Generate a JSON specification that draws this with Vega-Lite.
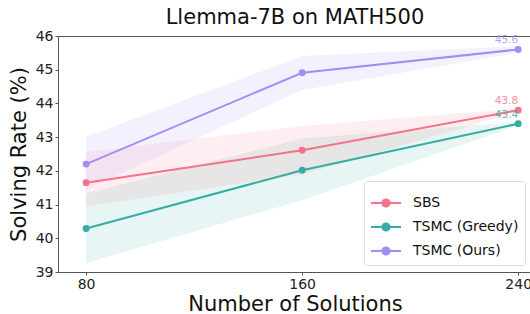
{
  "$schema": "https://vega.github.io/schema/vega-lite/v6.json",
  "width": 474,
  "height": 236,
  "autosize": {"type": "none"},
  "padding": {"left": 58, "top": 36, "right": 0, "bottom": 42},
  "background": "white",
  "config": {
    "font": "DejaVu Sans",
    "view": {"stroke": "#555", "strokeWidth": 1},
    "axis": {
      "domainColor": "#555", "tickColor": "#555", "tickSize": 3, "labelPadding": 2,
      "labelFontSize": 14, "labelColor": "#222", "titleFontSize": 21, "titleFontWeight": "normal",
      "titleColor": "#111", "grid": false, "labelOverlap": false
    },
    "title": {"fontSize": 21, "fontWeight": "normal", "color": "#111", "offset": 1}
  },
  "title": {"text": "Llemma-7B on MATH500", "anchor": "middle"},
  "data": {
    "values": [
      {"method": "SBS", "n": 80, "rate": 41.65, "lo": 40.95, "hi": 42.56},
      {"method": "SBS", "n": 160, "rate": 42.61, "lo": 41.89, "hi": 43.33},
      {"method": "SBS", "n": 240, "rate": 43.8, "lo": 43.75, "hi": 43.85, "label": "43.8"},
      {"method": "TSMC (Greedy)", "n": 80, "rate": 40.29, "lo": 39.27, "hi": 41.33},
      {"method": "TSMC (Greedy)", "n": 160, "rate": 42.02, "lo": 41.13, "hi": 42.96},
      {"method": "TSMC (Greedy)", "n": 240, "rate": 43.4, "lo": 43.35, "hi": 43.45, "label": "43.4"},
      {"method": "TSMC (Ours)", "n": 80, "rate": 42.2, "lo": 41.45, "hi": 43.01},
      {"method": "TSMC (Ours)", "n": 160, "rate": 44.91, "lo": 44.4, "hi": 45.41},
      {"method": "TSMC (Ours)", "n": 240, "rate": 45.6, "lo": 45.5, "hi": 45.7, "label": "45.6"}
    ]
  },
  "encoding": {
    "x": {"field": "n", "type": "quantitative",
      "scale": {"domain": [69.6, 245.1], "nice": false, "zero": false},
      "axis": {"values": [80, 160, 240], "title": "Number of Solutions", "titlePadding": 2}},
    "y": {"field": "rate", "type": "quantitative",
      "scale": {"domain": [39, 46], "nice": false, "zero": false},
      "axis": {"values": [39, 40, 41, 42, 43, 44, 45, 46], "title": "Solving Rate (%)", "titlePadding": 6, "labelOverlap": false, "tickCount": 8}},
    "color": {"field": "method", "type": "nominal",
      "scale": {"domain": ["SBS", "TSMC (Greedy)", "TSMC (Ours)"], "range": ["#f77189", "#36ada4", "#a48cf4"]},
      "legend": {
        "title": null, "orient": "bottom-right", "offset": 7,
        "labelFontSize": 14, "labelColor": "#111", "labelOffset": 11,
        "symbolType": "M-1,0H1M-0.24,0A0.24,0.24,0,1,1,0.24,0A0.24,0.24,0,1,1,-0.24,0Z",
        "symbolSize": 900, "symbolStrokeWidth": 2, "symbolOpacity": 1,
        "strokeColor": "#ddd", "fillColor": "white", "cornerRadius": 3, "padding": 6, "rowPadding": 0
      }
    }
  },
  "layer": [
    {
      "mark": {"type": "area", "opacity": 0.12},
      "encoding": {
        "y": {"field": "lo", "type": "quantitative",
          "axis": {"values": [39, 40, 41, 42, 43, 44, 45, 46], "title": "Solving Rate (%)", "titlePadding": 6, "labelOverlap": false, "tickCount": 8}},
        "y2": {"field": "hi"}
      }
    },
    {
      "mark": {"type": "line", "strokeWidth": 2}
    },
    {
      "mark": {"type": "point", "filled": true, "size": 48, "opacity": 1}
    },
    {
      "transform": [{"filter": "datum.label != null"}],
      "mark": {"type": "text", "align": "right", "baseline": "bottom", "dx": 0, "dy": -4, "fontSize": 10.5, "opacity": 0.8},
      "encoding": {
        "text": {"field": "label"}
      }
    }
  ]
}
